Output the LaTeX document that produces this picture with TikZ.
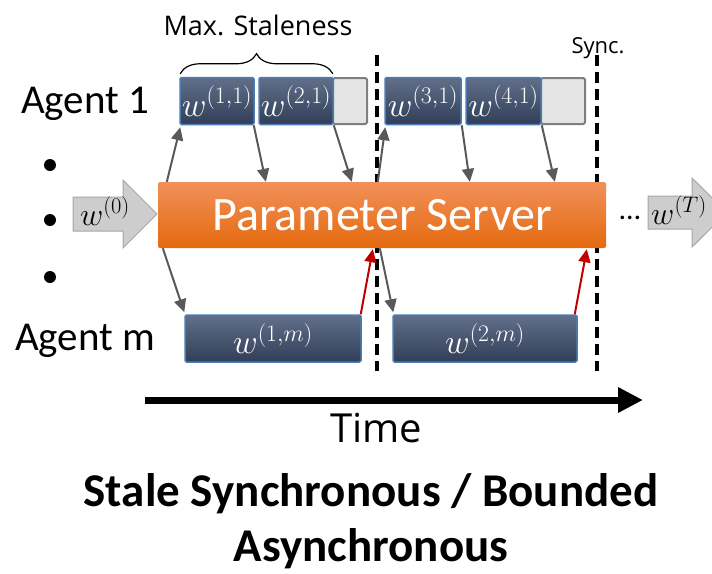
\RequirePackage{fix-cm}
\documentclass[tikz,border=0pt]{standalone}
\usepackage{fontspec}
\setmainfont{Carlito}
\newfontfamily\osans{Open Sans}
\usetikzlibrary{arrows.meta,decorations.pathreplacing,calc}
\definecolor{boxtop}{HTML}{616F8A}
\definecolor{boxbot}{HTML}{313E58}
\definecolor{boxedge}{HTML}{4A7DB5}
\definecolor{pstop}{HTML}{F2905A}
\definecolor{psbot}{HTML}{E46A0E}
\definecolor{connc}{HTML}{595959}
\definecolor{redc}{HTML}{C00000}
\definecolor{blockfill}{HTML}{CDCDCD}
\definecolor{blockedge}{HTML}{A6A6A6}
\definecolor{slack}{HTML}{E4E4E4}
\definecolor{slackedge}{HTML}{7F7F7F}
\begin{document}
\begin{tikzpicture}[x=1pt,y=-1pt,
  wbox/.style={draw=boxedge, line width=1.5pt, top color=boxtop, bottom color=boxbot,
    rounded corners=1.5pt, minimum height=47pt, inner sep=0pt, text=white,
    font=\fontsize{34}{34}\selectfont},
  slackbox/.style={draw=slackedge, line width=2pt, fill=slack, rounded corners=1.5pt,
    minimum height=46pt, inner sep=0pt},
  psbox/.style={top color=pstop, bottom color=psbot, rounded corners=2pt,
    minimum width=448pt, minimum height=66pt, inner sep=0pt, text=white,
    font=\fontsize{48}{48}\selectfont},
  connarrow/.style={draw=connc, line width=2pt, -{Triangle[length=13pt,width=12pt]}},
  redarrow/.style={draw=redc, line width=2pt, -{Triangle[length=13pt,width=12pt]}},
  syncline/.style={line width=3.5pt, dash pattern=on 11pt off 6pt},
  blockarrow/.style={fill=blockfill, draw=blockedge, line width=1pt, line join=miter},
  agentlabel/.style={font=\fontsize{41}{41}\selectfont, anchor=base west, inner sep=0pt},
  titlelabel/.style={font=\fontsize{47}{47}\selectfont\bfseries, anchor=base, inner sep=0pt}
]
\useasboundingbox (0,0) rectangle (712,573);

% sync lines
\coordinate (d1t) at (377,55);
\coordinate (d1b) at (377,371);
\coordinate (d2t) at (597,55);
\coordinate (d2b) at (597,371);
\draw[syncline] (d1t) -- (d1b);
\draw[syncline] (d2t) -- (d2b);

% labels
\node[agentlabel] (ag1) at (21,113) {Agent 1};
\node[agentlabel] (agm) at (15,350) {Agent m};
\node[font=\osans\fontsize{27}{27}\selectfont, anchor=base, inner sep=0pt] (maxs) at (258,35) {Max. Staleness};
\node[font=\osans\fontsize{22}{22}\selectfont, anchor=base, inner sep=0pt] (sync) at (598,53) {Sync.};

% bullets
\fill (50,165) circle (6);
\fill (50,220) circle (6);
\fill (50,277) circle (6);

% agent 1 boxes
\node[slackbox, minimum width=34pt] (s1) at (350,101) {};
\node[wbox, minimum width=74pt] (a11) at (217,101) {$w^{(1,1)}$};
\node[wbox, minimum width=74pt] (a21) at (296,101) {$w^{(2,1)}$};
\node[slackbox, minimum width=44pt] (s2) at (563,101) {};
\node[wbox, minimum width=76pt] (a31) at (423,101) {$w^{(3,1)}$};
\node[wbox, minimum width=75pt] (a41) at (503.5,101) {$w^{(4,1)}$};

% brace
\draw[decorate, decoration={brace, amplitude=20pt}, line width=1.2pt]
  ($(a11.north west)+(1,-3)$) -- ($(a21.north east)+(-1,-3)$);

% agent m boxes
\node[wbox, minimum width=176pt] (am1) at (273,338.5) {$w^{(1,m)}$};
\node[wbox, minimum width=184pt] (am2) at (485,338.5) {$w^{(2,m)}$};

% parameter server
\node[psbox] (ps) at (382,215) {Parameter Server};

% block arrows
\draw[blockarrow] (73,197) -- (123,197) -- (123,180) -- (157,214) -- (123,248) -- (123,231) -- (73,231) -- cycle;
\node[font=\fontsize{32}{32}\selectfont, inner sep=0pt] (w0) at (105,211) {$w^{(0)}$};
\draw[blockarrow] (648,196) -- (692,196) -- (692,178) -- (727,212.5) -- (692,247) -- (692,229) -- (648,229) -- cycle;
\node[font=\fontsize{32}{32}\selectfont, inner sep=0pt] (wT) at (679,210) {$w^{(T)}$};
\node[font=\fontsize{30}{30}\selectfont, inner sep=0pt] (ell) at (630,218) {…};

% connectors agent 1
\draw[connarrow] ($(ps.north west)+(9,0)$) -- ($(a11.south west)+(1,2)$);
\draw[connarrow] ($(a11.south east)+(-1,0)$) -- ($(ps.north west)+(108,0)$);
\draw[connarrow] (a21.south east) -- ($(ps.north west)+(194,0)$);
\draw[connarrow] ($(ps.north west)+(220,0)$) -- ($(a31.south west)+(1,2)$);
\draw[connarrow] (a31.south east) -- ($(ps.north west)+(312,0)$);
\draw[connarrow] (a41.south east) -- ($(ps.north west)+(397,0)$);

% connectors agent m
\draw[connarrow] ($(ps.south west)+(5,0)$) -- ($(am1.north west)+(0,-2)$);
\draw[redarrow] ($(am1.north east)+(-1,0)$) -- ($(ps.south west)+(215,1)$);
\draw[connarrow] ($(ps.south west)+(222,0)$) -- ($(am2.north west)+(1,-2)$);
\draw[redarrow] ($(am2.north east)+(-3,0)$) -- ($(ps.south west)+(429,1)$);

% time axis
\coordinate (t0) at (145,400);
\coordinate (t1) at (643,400);
\draw[line width=7pt, -{Triangle[length=25pt,width=24pt]}] (t0) -- (t1);
\node[font=\osans\fontsize{40}{40}\selectfont, anchor=base, inner sep=0pt] (time) at (376,442) {Time};

% title
\node[titlelabel] (title1) at (371,506) {Stale Synchronous / Bounded};
\node[titlelabel] (title2) at (371,561) {Asynchronous};
\end{tikzpicture}
\end{document}
